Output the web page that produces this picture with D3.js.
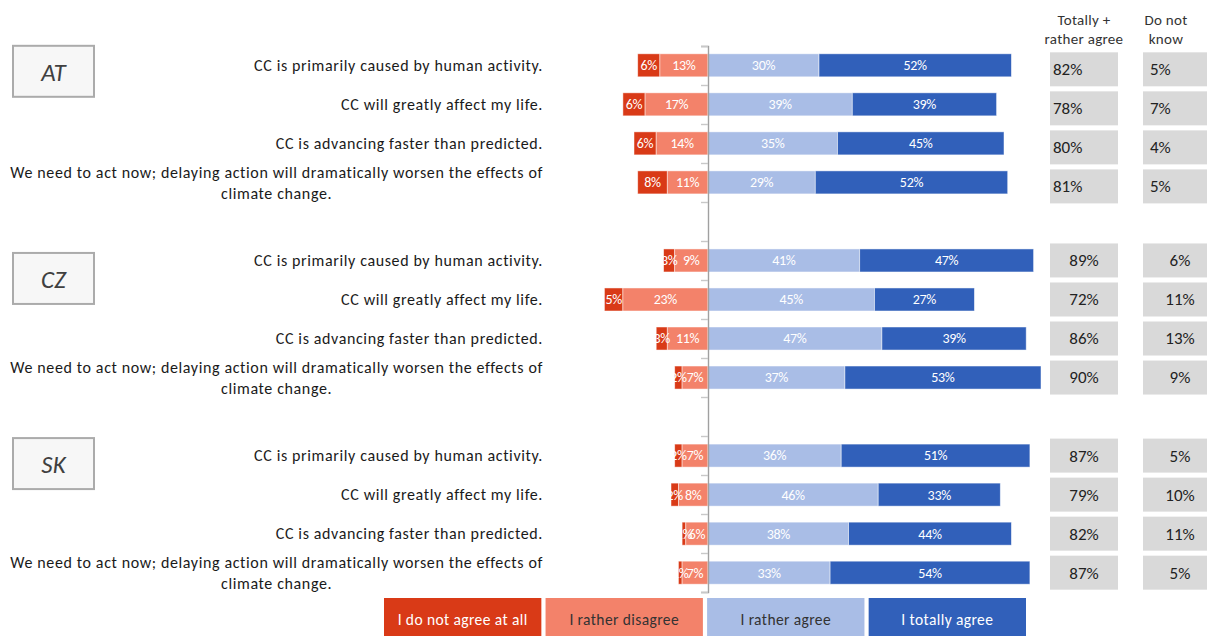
<!DOCTYPE html>
<html>
<head>
<meta charset="utf-8">
<script src="https://cdn.jsdelivr.net/npm/d3@7"></script>
<style>
  html, body { margin: 0; padding: 0; background: #fff; overflow: hidden; }
  svg { display: block; font-family: Carlito, Lato, "Open Sans", sans-serif; }
</style>
</head>
<body>
<svg id="chart" width="1207" height="636"></svg>
<script>
// ---- data ----
const countries = ["AT", "CZ", "SK"];
const statements = [
  "CC is primarily caused by human activity.",
  "CC will greatly affect my life.",
  "CC is advancing faster than predicted.",
  "We need to act now; delaying action will dramatically worsen the effects of climate change."
];
const seriesNames = ["I do not agree at all", "I rather disagree", "I rather agree", "I totally agree"];
// one row per country, one value per statement (percent)
const notAgreeAtAll  = [[6, 6, 6, 8], [3, 5, 3, 2], [2, 2, 1, 1]];
const ratherDisagree = [[13, 17, 14, 11], [9, 23, 11, 7], [7, 8, 6, 7]];
const ratherAgree    = [[30, 39, 35, 29], [41, 45, 47, 37], [36, 46, 38, 33]];
const totallyAgree   = [[52, 39, 45, 52], [47, 27, 39, 53], [51, 33, 44, 54]];
const agreeTotal     = [[82, 78, 80, 81], [89, 72, 86, 90], [87, 79, 82, 87]];
const doNotKnow      = [[5, 7, 4, 5], [6, 11, 13, 9], [5, 10, 11, 5]];
const columnHeaders  = [["Totally +", "rather agree"], ["Do not", "know"]];

// ---- styling ----
const colors = ["#d93a17", "#f3826a", "#a9bde6", "#3160ba"];
const legendText = ["#ffffff", "#333333", "#333333", "#ffffff"];
const tagNudge = [-4, 8, -2];   // vertical fine-tuning of the country tags

const svg = d3.select("#chart");

// rows: 4 statements per country with one empty slot between countries
const slots = [];
countries.forEach((c, ci) => {
  statements.forEach((s, si) => slots.push({ c: ci, s: si, key: c + "-" + si }));
  if (ci < countries.length - 1) slots.push({ gap: true, key: "gap" + ci });
});

const y = d3.scaleBand().domain(slots.map(d => d.key)).range([46, 592]).paddingInner(0.41).paddingOuter(0.2);
const yEdge = d3.scaleLinear().domain([0, slots.length]).range([46, 592]);
const x = d3.scaleLinear().domain([-30, 90]).range([597, 1041]);

// ---- stacked bars ----
const rows = slots.filter(d => !d.gap);
rows.forEach(r => {
  const v = [notAgreeAtAll[r.c][r.s], ratherDisagree[r.c][r.s], ratherAgree[r.c][r.s], totallyAgree[r.c][r.s]];
  const segs = [
    { i: 0, x0: -(v[0] + v[1]), x1: -v[1], v: v[0] },
    { i: 1, x0: -v[1], x1: 0, v: v[1] },
    { i: 2, x0: 0, x1: v[2], v: v[2] },
    { i: 3, x0: v[2], x1: v[2] + v[3], v: v[3] }
  ];
  const g = svg.append("g").attr("transform", `translate(0,${y(r.key)})`);
  g.selectAll("rect").data(segs).join("rect")
    .attr("x", d => x(d.x0))
    .attr("width", d => x(d.x1) - x(d.x0))
    .attr("height", y.bandwidth())
    .attr("fill", d => colors[d.i])
    .attr("stroke", "rgba(255,255,255,0.6)")
    .attr("stroke-width", 0.8);
  g.selectAll("text").data(segs).join("text")
    .attr("x", d => (x(d.x0) + x(d.x1)) / 2)
    .attr("y", y.bandwidth() / 2)
    .attr("dy", "0.35em")
    .attr("text-anchor", "middle")
    .attr("font-size", 14)
    .attr("letter-spacing", -0.3)
    .attr("fill", "#ffffff")
    .text(d => d.v + "%");
});

// ---- vertical axis at zero ----
const axis = d3.axisLeft(yEdge)
  .tickValues(d3.range(slots.length + 1))
  .tickFormat("")
  .tickSize(7)
  .tickSizeOuter(7);
const axG = svg.append("g").attr("transform", `translate(${x(0)},0)`).call(axis);
axG.select(".domain").attr("stroke", "#a0a0a0").attr("stroke-width", 1.4);
axG.selectAll(".tick line").attr("stroke", "#c8c8c8").attr("stroke-width", 1.4);

// ---- statement labels ----
const labelRight = 543;
const labelStyle = t => t.attr("font-size", 16).attr("letter-spacing", 0.62).attr("fill", "#1a1a1a").attr("dy", "0.35em");
rows.forEach(r => {
  const text = statements[r.s];
  const cy = y(r.key) + y.bandwidth() / 2;
  if (r.s < 3) {
    svg.append("text")
      .attr("x", labelRight).attr("y", cy)
      .attr("text-anchor", "end")
      .call(labelStyle)
      .text(text);
  } else {
    const line1 = "We need to act now; delaying action will dramatically worsen the effects of";
    const line2 = "climate change.";
    const t1 = svg.append("text")
      .attr("x", labelRight).attr("y", cy - 10)
      .attr("text-anchor", "end")
      .call(labelStyle)
      .text(line1);
    const w = t1.node().getComputedTextLength();
    svg.append("text")
      .attr("x", labelRight - w / 2).attr("y", cy + 11)
      .attr("text-anchor", "middle")
      .call(labelStyle)
      .text(line2);
  }
});

// ---- country tags ----
countries.forEach((c, ci) => {
  const top = y(c + "-0") - 4 + tagNudge[ci];
  const g = svg.append("g").attr("transform", `translate(13,${top})`);
  g.append("rect").attr("width", 81).attr("height", 51)
    .attr("fill", "#f7f7f7").attr("stroke", "#ababab").attr("stroke-width", 2);
  g.append("text").attr("x", 40.5).attr("y", 26).attr("dy", "0.35em")
    .attr("text-anchor", "middle").attr("font-size", 25)
    .attr("font-style", "italic").attr("fill", "#404040").text(c);
});

// ---- summary columns ----
const cols = [
  { x: 1050, w: 68, values: agreeTotal },
  { x: 1143, w: 64, values: doNotKnow }
];
cols.forEach((col, k) => {
  columnHeaders[k].forEach((h, li) => {
    svg.append("text")
      .attr("x", col.x + (k === 0 ? 34 : 23)).attr("y", 20 + li * 19)
      .attr("dy", "0.35em").attr("text-anchor", "middle")
      .attr("font-size", 15).attr("letter-spacing", 0.3)
      .attr("fill", "#333").text(h);
  });
  rows.forEach(r => {
    const cy = y(r.key) + y.bandwidth() / 2 + (r.c === 0 ? 4 : 0);
    const g = svg.append("g").attr("transform", `translate(${col.x},${cy - 17})`);
    g.append("rect").attr("width", col.w).attr("height", 34).attr("fill", "#d9d9d9");
    const leftAligned = r.c === 0;
    g.append("text")
      .attr("x", leftAligned ? (k === 0 ? 3 : 7) : col.w / 2 + (k === 0 ? 0 : 5))
      .attr("y", 17).attr("dy", "0.35em")
      .attr("text-anchor", leftAligned ? "start" : "middle")
      .attr("font-size", 17).attr("fill", "#222")
      .text(col.values[r.c][r.s] + "%");
  });
});

// ---- legend ----
const lx = d3.scaleBand().domain(seriesNames).range([384, 1026]).paddingInner(0.026);
const lg = svg.append("g").attr("transform", "translate(0,598)");
lg.selectAll("rect").data(seriesNames).join("rect")
  .attr("x", d => lx(d)).attr("width", lx.bandwidth()).attr("height", 40)
  .attr("fill", (d, i) => colors[i]);
lg.selectAll("text").data(seriesNames).join("text")
  .attr("x", d => lx(d) + lx.bandwidth() / 2).attr("y", 22).attr("dy", "0.35em")
  .attr("text-anchor", "middle").attr("font-size", 15.5).attr("letter-spacing", 0.4)
  .attr("fill", (d, i) => legendText[i]).text(d => d);
</script>
</body>
</html>
